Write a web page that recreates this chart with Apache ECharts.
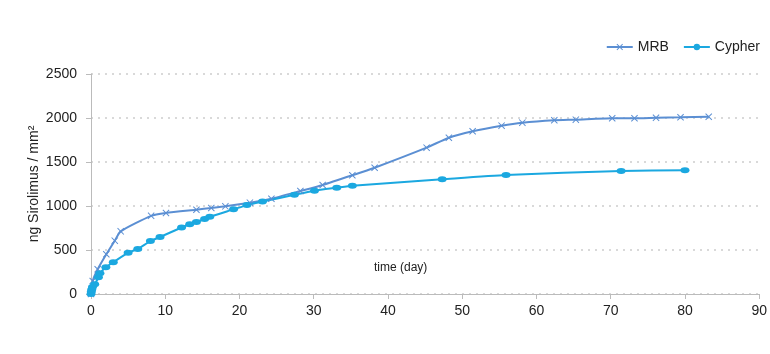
<!DOCTYPE html>
<html lang="en">
<head>
    <meta charset="UTF-8">
    <title>Sirolimus release</title>
    <script src="https://cdn.jsdelivr.net/npm/echarts@6/dist/echarts.min.js"></script>
</head>
<body style="margin:0">
    <div id="chart1" style="width: 770px;height:354px;"></div>
    <script type="text/javascript">
        // data: [day, ng/mm2]
        var mrbDays = [0, 0.23, 0.9, 2.06, 3.2, 4, 8.1, 10.1, 14.2, 16.2, 18.1, 21.4, 24.3, 28.2, 31.2, 35.2, 38.2, 45.2, 48.2, 51.4, 55.3, 58.1, 62.4, 65.3, 70.2, 73.2, 76.1, 79.4, 83.2];
        var mrbValues = [0, 148, 281, 451, 606, 712, 888, 920, 958, 977, 996, 1038, 1083, 1170, 1239, 1349, 1435, 1663, 1776, 1849, 1913, 1947, 1974, 1981, 1997, 1997, 2003, 2008, 2015];
        var cypherDays = [0, 0.04, 0.1, 0.2, 0.5, 1, 1.2, 2, 3, 5, 6.3, 8, 9.3, 12.2, 13.3, 14.2, 15.3, 16, 19.2, 21, 23.1, 27.4, 30.1, 33.1, 35.2, 47.3, 55.9, 71.4, 80];
        var cypherValues = [0, 25, 50, 80, 110, 190, 235, 305, 360, 470, 512, 602, 648, 756, 792, 818, 852, 878, 962, 1010, 1050, 1128, 1174, 1208, 1231, 1303, 1352, 1398, 1406];
        var xTicks = [0, 10, 20, 30, 40, 50, 60, 70, 80, 90];
        var yTicks = [0, 500, 1000, 1500, 2000, 2500];

        function pairs(xs, ys) {
            var out = [];
            for (var i = 0; i < xs.length; i++) {
                out.push([xs[i], ys[i]]);
            }
            return out;
        }

        var crossPath = 'path://M0,1L1,0L5,4L9,0L10,1L6,5L10,9L9,10L5,6L1,10L0,9L4,5Z';
        var font = 'Liberation Sans, Arial, sans-serif';

        var myChart = echarts.init(document.getElementById('chart1'));
        var option = {
            animation: false,
            textStyle: { fontFamily: font },
            grid: { left: 91, right: 9, top: 74, bottom: 60 },
            legend: {
                top: 35,
                right: 5,
                itemWidth: 26,
                itemHeight: 8,
                itemGap: 14,
                textStyle: { fontSize: 14, color: '#222', fontFamily: font },
                data: ['MRB', 'Cypher']
            },
            graphic: [{
                type: 'text',
                left: 374,
                top: 262,
                style: { text: 'time (day)', fontSize: 12, fill: '#222', fontFamily: font }
            }],
            xAxis: {
                type: 'value',
                min: xTicks[0],
                max: xTicks[xTicks.length - 1],
                interval: 10,
                axisLine: { show: true, lineStyle: { color: '#bbb', width: 1 } },
                axisTick: { show: true, length: 5, lineStyle: { color: '#bbb' } },
                axisLabel: { fontSize: 14, color: '#222', margin: 10 },
                splitLine: { show: false }
            },
            yAxis: {
                type: 'value',
                min: yTicks[0],
                max: yTicks[yTicks.length - 1],
                interval: 500,
                name: 'ng Sirolimus / mm²',
                nameLocation: 'middle',
                nameGap: 50,
                nameMoveOverlap: false,
                nameTextStyle: { fontSize: 14, color: '#222' },
                axisLine: { show: true, lineStyle: { color: '#bbb', width: 1 } },
                axisTick: { show: true, length: 5, lineStyle: { color: '#bbb' } },
                axisLabel: { fontSize: 14, color: '#222', margin: 14, formatter: function (v) { return String(v); } },
                splitLine: { show: true, lineStyle: { color: '#d9d9d9', width: 2, type: [2, 5] } }
            },
            series: [{
                name: 'MRB',
                type: 'line',
                data: pairs(mrbDays, mrbValues),
                smooth: 0.2,
                symbol: crossPath,
                symbolSize: 7,
                showAllSymbol: true,
                color: '#5b8fd3',
                lineStyle: { width: 2, color: '#5b8fd3' },
                itemStyle: { color: '#5b8fd3' }
            }, {
                name: 'Cypher',
                type: 'line',
                data: pairs(cypherDays, cypherValues),
                smooth: 0.2,
                symbol: 'circle',
                symbolSize: [9, 6],
                showAllSymbol: true,
                color: '#1ba8e0',
                lineStyle: { width: 2, color: '#1ba8e0' },
                itemStyle: { color: '#1ba8e0' }
            }]
        };
        myChart.setOption(option);
    </script>
</body>
</html>
